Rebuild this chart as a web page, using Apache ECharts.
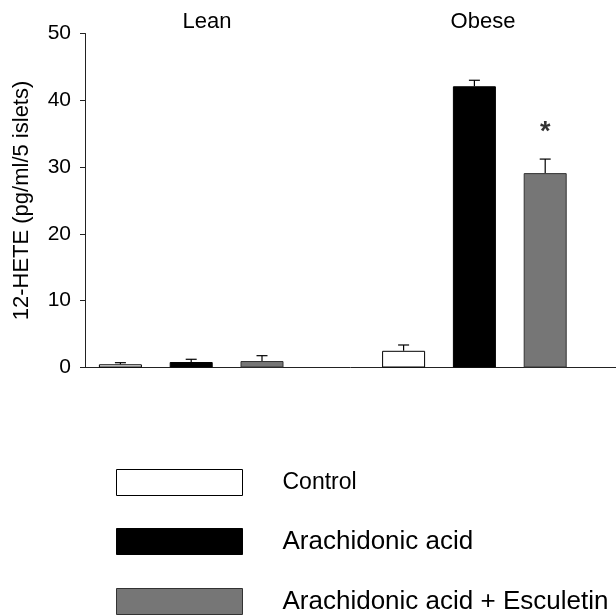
<!DOCTYPE html>
<html>
<head>
<meta charset="utf-8">
<script src="https://cdn.jsdelivr.net/npm/echarts@6/dist/echarts.min.js"></script>
<style>html,body{margin:0;padding:0;background:#fff}#c{width:616px;height:615px}</style>
</head>
<body>
<div id="c"></div>
<script>
// ---- data ----
const groups = ['Lean', 'Obese'];
const treatments = ['Control', 'Arachidonic acid', 'Arachidonic acid + Esculetin'];
const controlMean = [0.48, 2.5];
const controlErr  = [0.24, 0.87];
const aaMean      = [0.82, 42.1];
const aaErr       = [0.41, 0.9];
const aaeMean     = [0.97, 29.1];
const aaeErr      = [0.8, 2.1];
const significance = [{ group: 1, treatment: 2, y: 35.2, text: '*' }];
const yTicks = [0, 10, 20, 30, 40, 50];
const yTitle = '12-HETE (pg/ml/5 islets)';

// ---- build ----
const FONT = "'Liberation Sans', Arial, sans-serif";
const means = [controlMean, aaMean, aaeMean];
const errs = [controlErr, aaErr, aaeErr];
const fills = ['#ffffff', '#000000', '#767676'];
const borders = ['#000000', '#000000', '#333333'];

// x position: three bars per group, one empty slot between groups
function slotPos(g, t) { return g * 4 + t + 1; }

const barSeries = treatments.map((name, t) => ({
  name, type: 'bar',
  data: groups.map((g, gi) => [slotPos(gi, t), means[t][gi]]),
  barWidth: 43, barGap: '-100%',
  itemStyle: { color: fills[t], borderColor: borders[t], borderWidth: 1 },
  emphasis: { disabled: true },
  silent: true, z: 2
}));

const errData = [];
treatments.forEach((_, t) => groups.forEach((_, gi) => {
  errData.push([slotPos(gi, t), means[t][gi], means[t][gi] + errs[t][gi]]);
}));

const errSeries = {
  type: 'custom', silent: true, z: 3,
  data: errData,
  renderItem: function (params, api) {
    const x = api.value(0);
    const lo = api.coord([x, api.value(1)]);
    const hi = api.coord([x, api.value(2)]);
    const cap = 5.5;
    const style = { stroke: '#000', lineWidth: 1.2 };
    return {
      type: 'group', children: [
        { type: 'line', shape: { x1: lo[0], y1: lo[1], x2: hi[0], y2: hi[1] }, style },
        { type: 'line', shape: { x1: hi[0] - cap, y1: hi[1], x2: hi[0] + cap, y2: hi[1] }, style }
      ]
    };
  }
};

const sigSeries = {
  type: 'scatter', silent: true, symbolSize: 0,
  data: significance.map(s => ({ value: [slotPos(s.group, s.treatment), s.y], label: { formatter: s.text } })),
  label: { show: true, position: 'inside', fontSize: 27, fontWeight: 'bold', color: '#000', fontFamily: FONT }
};

const legendTops = [469, 528, 588];
const legends = treatments.map((name, t) => ({
  orient: 'vertical', left: 116, top: legendTops[t], padding: 0,
  itemWidth: 126, itemHeight: 26,
  icon: 'rect', selectedMode: false,
  data: [{
    name,
    itemStyle: { color: fills[t], borderColor: borders[t], borderWidth: 1 }
  }],
  textStyle: { color: '#000', fontFamily: FONT, fontSize: t === 0 ? 23 : 26, padding: [3, 0, 0, 35] }
}));

const chart = echarts.init(document.getElementById('c'), null, { renderer: 'canvas' });
chart.setOption({
  backgroundColor: '#fff',
  animation: false,
  grid: { left: 85, top: 33.5, height: 334, right: 0 },
  xAxis: {
    type: 'value', min: 0.5, max: 8,
    axisLine: { show: true, onZero: false, lineStyle: { color: '#222', width: 1 } },
    axisTick: { show: false }, axisLabel: { show: false }, splitLine: { show: false }
  },
  yAxis: {
    type: 'value', min: yTicks[0], max: yTicks[yTicks.length - 1], interval: 10,
    name: yTitle, nameLocation: 'middle', nameGap: 52,
    nameTextStyle: { fontSize: 22, color: '#000', fontFamily: FONT },
    axisLine: { show: true, lineStyle: { color: '#222', width: 1 } },
    axisTick: { show: true, length: 5, lineStyle: { color: '#222' } },
    axisLabel: { fontSize: 21, color: '#000', margin: 14, fontFamily: FONT },
    splitLine: { show: false }
  },
  legend: legends,
  graphic: groups.map((g, gi) => ({
    type: 'text', x: gi === 0 ? 207 : 483, y: 22,
    style: { text: g, fontSize: 22, fontFamily: FONT, fill: '#000', align: 'center', verticalAlign: 'middle' }
  })),
  series: [...barSeries, errSeries, sigSeries]
});
</script>
</body>
</html>
